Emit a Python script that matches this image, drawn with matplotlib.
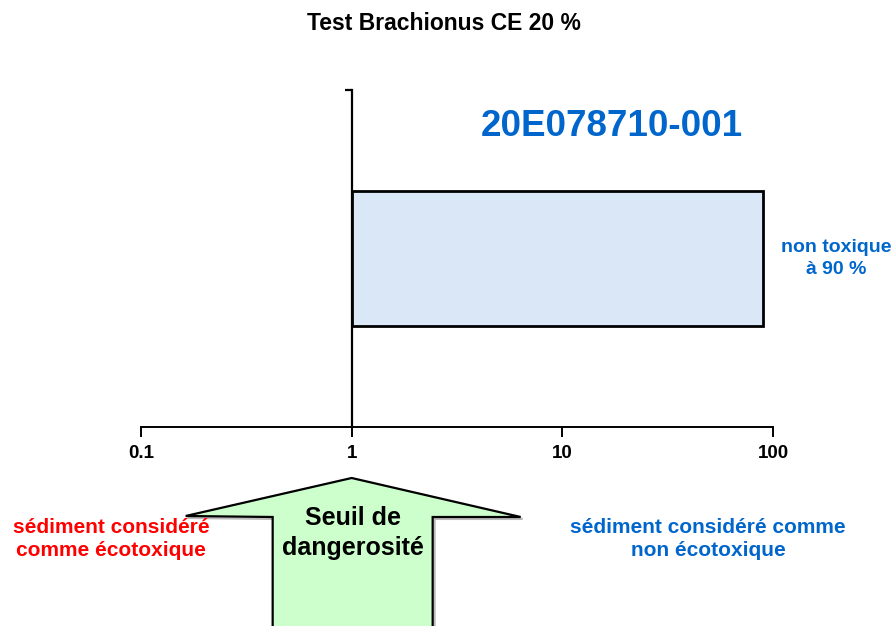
import matplotlib
matplotlib.use("Agg")
import matplotlib.pyplot as plt
from matplotlib.patches import Polygon
from matplotlib.transforms import blended_transform_factory

plt.rcParams['font.family'] = ['Liberation Sans', 'DejaVu Sans']
plt.rcParams['font.weight'] = 'bold'

# Data
samples = ["20E078710-001"]
ce20_low = [1]          # bar starts at the threshold
ce20_values = [90]      # CE 20 % value (% of sediment)
result_labels = ["non toxique\nà 90 %"]
threshold = 1
xticks = [0.1, 1, 10, 100]
xtick_labels = ["0.1", "1", "10", "100"]

W, H, DPI = 893, 626, 100
fig = plt.figure(figsize=(W / DPI, H / DPI), dpi=DPI)

# axes box in pixels: x 141..773, y 90..427 (from top)
left, right, top, bottom = 141, 773, 90, 427
ax = fig.add_axes([left / W, 1 - bottom / H, (right - left) / W, (bottom - top) / H])

ax.set_xscale('log')
ax.set_xlim(0.1, 100)
ax.set_ylim(-1, 1)

blue = '#0066CC'

ax.barh([0], [v - lo for v, lo in zip(ce20_values, ce20_low)], left=ce20_low,
        height=0.8, color='#DAE7F7', edgecolor='black', linewidth=2, zorder=3)

# spines
for s in ('top', 'right'):
    ax.spines[s].set_visible(False)
ax.spines['left'].set_position(('data', threshold))
ax.spines['left'].set_linewidth(1.6)
ax.spines['bottom'].set_linewidth(1.4)

ax.set_xticks(xticks)
ax.set_xticklabels(xtick_labels, fontsize=13.5, fontweight='bold')
ax.xaxis.set_minor_locator(matplotlib.ticker.NullLocator())
ax.tick_params(axis='x', direction='out', length=7, width=1.4, pad=6)
ax.set_yticks([1])
ax.set_yticklabels([])
ax.tick_params(axis='y', direction='out', length=5, width=1.6)

# sample label and result
ax.text((612 - left) / (right - left), (bottom - 126) / (bottom - top), samples[0],
        transform=ax.transAxes, color=blue, fontsize=26.5, fontweight='bold',
        ha='center', va='center')
ax.text((836 - left) / (right - left), 0.0, result_labels[0],
        transform=blended_transform_factory(ax.transAxes, ax.transData),
        color=blue, fontsize=14, fontweight='bold', ha='center', va='center',
        linespacing=1.38)

# title
fig.text(443.5 / W, 1 - 24 / H, "Test Brachionus CE 20 %", fontsize=16.5,
         fontweight='bold', ha='center', va='center')

# threshold arrow: x in data (decades around the threshold), y in figure pixels
tr = blended_transform_factory(ax.transData, fig.transFigure)
dec = (right - left) / 3.0
def xd(px_offset):
    return threshold * 10 ** (px_offset / dec)
def yf(py):
    return 1 - py / H
arrow_pts = [
    (xd(0), yf(478)),
    (xd(169), yf(517)),
    (xd(81), yf(517)),
    (xd(81), yf(640)),
    (xd(-79), yf(640)),
    (xd(-79), yf(517)),
    (xd(-166), yf(516)),
]
shadow = Polygon([(x * 10 ** (2 / dec), y - 2 / H) for x, y in arrow_pts], closed=True,
                 transform=tr, facecolor='none', edgecolor='#BBBBBB',
                 linewidth=1.5, clip_on=False, zorder=1)
fig.add_artist(shadow)
arrow = Polygon(arrow_pts, closed=True, transform=tr, facecolor='#CCFFCC',
                edgecolor='black', linewidth=1.6, clip_on=False, zorder=2)
fig.add_artist(arrow)
fig.text(353 / W, 1 - 533 / H, "Seuil de\ndangerosité", fontsize=18,
         fontweight='bold', ha='center', va='center', linespacing=1.28, zorder=3)

# zone labels
fig.text(111 / W, 1 - 539 / H, "sédiment considéré\ncomme écotoxique",
         color='red', fontsize=15, fontweight='bold', ha='center', va='center',
         linespacing=1.25)
fig.text(708 / W, 1 - 539 / H, "sédiment considéré comme\nnon écotoxique",
         color=blue, fontsize=15, fontweight='bold', ha='center', va='center',
         linespacing=1.25)

fig.savefig("out.png", dpi=DPI)
